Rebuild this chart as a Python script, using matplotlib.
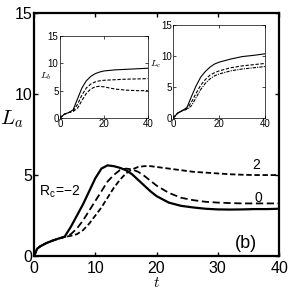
import matplotlib
matplotlib.use("Agg")
import matplotlib.pyplot as plt

plt.rcParams['font.family'] = ['Liberation Sans', 'DejaVu Sans']
plt.rcParams['mathtext.fontset'] = 'cm'

# main panel: L_a(t) for R_c = -2, 0, 2
t_main = [0, 0.5, 1, 2, 3, 4, 5, 6, 7, 8, 9, 10, 11, 12, 13, 14, 15, 16, 17, 18, 19, 20,
          22, 24, 26, 28, 30, 32, 34, 36, 38, 40]
la_m2 = [0, 0.45, 0.6, 0.8, 0.95, 1.08, 1.2, 1.8, 2.5, 3.2, 4.0, 4.8, 5.4, 5.6, 5.55, 5.45,
         5.3, 5.05, 4.7, 4.35, 4.0, 3.7, 3.3, 3.1, 3.0, 2.92, 2.88, 2.87, 2.88, 2.9, 2.9, 2.92]
la_0 = [0, 0.45, 0.6, 0.8, 0.95, 1.08, 1.18, 1.35, 1.7, 2.2, 2.8, 3.4, 4.0, 4.6, 5.0, 5.3,
        5.4, 5.35, 5.2, 4.95, 4.65, 4.35, 3.9, 3.6, 3.45, 3.35, 3.3, 3.27, 3.25, 3.25, 3.25, 3.25]
la_2 = [0, 0.45, 0.6, 0.8, 0.95, 1.08, 1.18, 1.25, 1.35, 1.6, 2.0, 2.5, 3.0, 3.6, 4.2, 4.7,
        5.1, 5.35, 5.5, 5.55, 5.55, 5.5, 5.4, 5.3, 5.2, 5.15, 5.1, 5.05, 5.02, 5.0, 5.0, 5.0]

# insets
t_in = [0, 2, 4, 6, 8, 10, 12, 14, 16, 18, 20, 25, 30, 35, 40]
lb_m2 = [0, 0.7, 1.0, 1.5, 3.5, 5.5, 6.8, 7.6, 8.1, 8.4, 8.6, 8.8, 8.9, 9.0, 9.1]
lb_0 = [0, 0.7, 1.0, 1.3, 2.5, 4.2, 5.5, 6.2, 6.6, 6.8, 6.9, 7.0, 7.1, 7.15, 7.2]
lb_2 = [0, 0.7, 1.0, 1.2, 1.8, 3.2, 4.5, 5.3, 5.7, 5.8, 5.7, 5.3, 5.1, 5.0, 5.0]
lc_m2 = [0, 0.8, 1.2, 1.7, 3.5, 5.2, 6.6, 7.5, 8.2, 8.7, 9.0, 9.5, 9.9, 10.1, 10.35]
lc_0 = [0, 0.8, 1.2, 1.5, 2.6, 4.0, 5.3, 6.2, 6.9, 7.3, 7.6, 8.1, 8.4, 8.6, 8.8]
lc_2 = [0, 0.8, 1.2, 1.4, 2.0, 3.3, 4.6, 5.6, 6.3, 6.8, 7.1, 7.6, 7.9, 8.1, 8.3]

fig = plt.figure(figsize=(2.91, 2.90), dpi=100)

ax = fig.add_axes([0.117, 0.117, 0.842, 0.838])
ax.plot(t_main, la_m2, 'k-', lw=1.6)
ax.plot(t_main, la_0, 'k', lw=1.3, dashes=(4, 2))
ax.plot(t_main, la_2, 'k', lw=1.3, dashes=(3, 1.5))
ax.set_xlim(0, 40)
ax.set_ylim(0, 15)
ax.set_xticks([0, 10, 20, 30, 40])
ax.set_yticks([0, 5, 10, 15])
ax.tick_params(direction='in', top=True, right=True, labelsize=11.5, length=3, width=1)
ax.tick_params(axis='x', pad=3.5)
ax.tick_params(axis='y', pad=1)
for s in ax.spines.values():
    s.set_linewidth(1.6)
ax.set_xlabel('$t$', fontsize=11, labelpad=0)
ax.set_ylabel('$L_a$', fontsize=15, rotation=0)
ax.yaxis.set_label_coords(-0.09, 0.52)
ax.text(0.8, 3.7, 'R$_\\mathregular{c}$=\u22122', fontsize=10)
ax.text(35.6, 5.4, '2', fontsize=10)
ax.text(36.0, 3.35, '0', fontsize=10)
ax.text(32.8, 0.5, '(b)', fontsize=13)

ax1 = fig.add_axes([0.206, 0.593, 0.302, 0.283])
ax1.plot(t_in, lb_m2, 'k-', lw=0.8)
ax1.plot(t_in, lb_0, 'k', lw=0.8, dashes=(3, 1.5))
ax1.plot(t_in, lb_2, 'k', lw=0.8, dashes=(3, 1.5))
ax1.set_ylabel('$L_b$', fontsize=7, rotation=0)
ax1.yaxis.set_label_coords(-0.16, 0.44)

ax2 = fig.add_axes([0.595, 0.593, 0.316, 0.321])
ax2.plot(t_in, lc_m2, 'k-', lw=0.8)
ax2.plot(t_in, lc_0, 'k', lw=0.8, dashes=(3, 1.5))
ax2.plot(t_in, lc_2, 'k', lw=0.8, dashes=(3, 1, 1, 1))
ax2.set_ylabel('$L_c$', fontsize=7, rotation=0)
ax2.yaxis.set_label_coords(-0.19, 0.52)

for a in (ax1, ax2):
    a.set_xlim(0, 40)
    a.set_ylim(0, 15)
    a.set_xticks([0, 20, 40])
    a.set_yticks([0, 5, 10, 15])
    a.tick_params(direction='in', top=True, right=True, labelsize=7, length=2, width=0.5, pad=1)
    for s in a.spines.values():
        s.set_linewidth(0.5)

fig.savefig('out.png', dpi=100)
